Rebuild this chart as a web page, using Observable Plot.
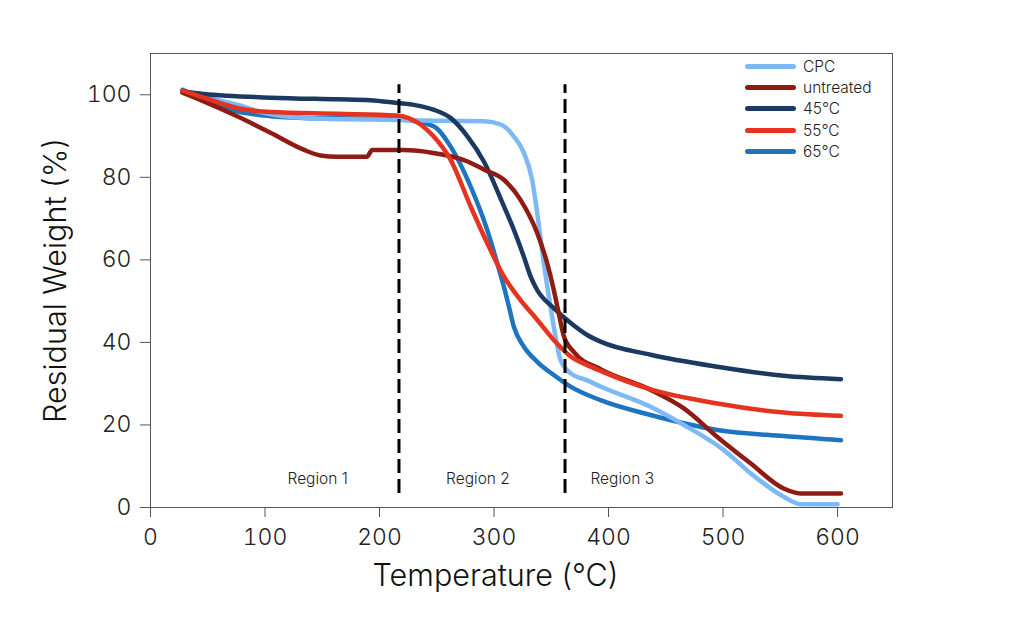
<!DOCTYPE html>
<html>
<head>
<meta charset="utf-8">
<script src="https://cdn.jsdelivr.net/npm/d3@7"></script>
<script src="https://cdn.jsdelivr.net/npm/@observablehq/plot@0.6"></script>
<style>
  html, body { margin: 0; padding: 0; background: #fff; }
  #wrap { position: relative; width: 1024px; height: 642px; font-family: Inter, "Noto Sans", sans-serif; }
  #legend { position: absolute; left: 745px; top: 56px; font-size: 15.5px; color: #222; font-weight: 300; }
  .row { display: flex; align-items: center; height: 21.2px; }
  .sw { width: 51px; height: 5px; border-radius: 3px; margin-right: 7px; }
  svg text { font-weight: 300; }
</style>
</head>
<body>
<div id="wrap"><div id="legend"></div></div>
<script>
const seriesNames = ["CPC", "untreated", "45°C", "55°C", "65°C"];
const seriesColors = ["#7db9f6", "#8e1c12", "#1b3a62", "#e5331f", "#1f74bf"];

const cpcT = [28, 46, 76, 99, 134, 192, 250, 291, 306, 317, 326, 333.3, 337.7, 343.5, 349.3, 353.7, 358, 367, 381.4, 393, 436.7, 465.8, 500.7, 524, 553, 567.7, 600];
const cpcW = [100.5, 99.5, 97.6, 95.6, 94.4, 94.0, 93.7, 93.6, 92.8, 90, 86, 79.4, 71.4, 59.2, 48.7, 41.4, 35.8, 32.5, 30.8, 29.3, 24.4, 20, 13.9, 8.3, 2.6, 0.8, 0.8];

const untreatedT = [28, 46.5, 75.7, 104.8, 133.7, 148.5, 163, 189, 193.6, 221, 247, 276.5, 291, 308.6, 323, 337.7, 346.4, 352.2, 356.9, 361, 370, 393, 436.7, 465.8, 495, 524, 553, 567.7, 603];
const untreatedW = [100.5, 98.4, 94.8, 90.8, 86.7, 85.3, 85, 85, 86.6, 86.6, 85.9, 83.9, 81.9, 79.4, 74.6, 66.5, 59.2, 52.7, 46.5, 41.5, 37.6, 33.5, 28.5, 24, 17.1, 10.7, 4.6, 3.4, 3.4];

const t45T = [28, 46.5, 104.8, 163, 192, 215.4, 231, 247, 262, 276.6, 291, 308.6, 317.3, 326, 331.9, 337.7, 352.2, 367, 381.4, 393, 436.7, 495, 553, 603];
const t45W = [100.8, 100.2, 99.3, 98.9, 98.7, 98.0, 97.5, 96.4, 94.4, 90, 83.9, 73, 67.3, 60.8, 56, 52.7, 48.3, 44.7, 41.8, 40.2, 37, 34.1, 31.9, 31.1];

const t55T = [28, 46.5, 75.7, 104.8, 163, 215, 235.8, 247, 262, 279.5, 294, 308.6, 323, 337.7, 352.2, 367, 381.4, 393, 436.7, 495, 553, 603];
const t55W = [101, 99.3, 96.8, 95.8, 95.4, 95.0, 92.8, 90, 84.3, 73, 64.1, 56, 50.3, 45.5, 40.6, 36.6, 34.5, 33.1, 28.6, 25.2, 23, 22.2];

const t65T = [28, 46.5, 75.7, 104.8, 133.7, 192, 218, 247, 262, 279.5, 294, 302.8, 308.6, 313, 317.3, 326, 337.7, 352.2, 366.8, 393, 436.7, 495, 553, 603];
const t65W = [101.2, 98.9, 96, 94.8, 94.4, 94.2, 94, 92.4, 87.5, 77.8, 67.3, 59.2, 53.5, 48.7, 43.8, 39, 35.3, 32.1, 29.3, 26, 22.4, 18.8, 17.3, 16.3];

const xTicks = [0, 100, 200, 300, 400, 500, 600];
const yTicks = [0, 20, 40, 60, 80, 100];
const regionBounds = [217, 362];
const regionNames = ["Region 1", "Region 2", "Region 3"];
const regionLabelX = [146, 286, 412];
const regionLabelY = 6.8;
const dashTop = 102.4, dashBottom = 3.4;

const seriesT = [cpcT, untreatedT, t45T, t55T, t65T];
const seriesW = [cpcW, untreatedW, t45W, t55W, t65W];
const rows = [];
seriesNames.forEach((s, i) => seriesT[i].forEach((t, j) => rows.push({series: s, T: t, W: seriesW[i][j]})));
const drawOrder = ["65°C", "CPC", "45°C", "untreated", "55°C"];

const font = "Inter, 'Noto Sans', sans-serif";

const chart = Plot.plot({
  width: 1024,
  height: 642,
  marginLeft: 150,
  marginRight: 132,
  marginTop: 53,
  marginBottom: 135,
  style: {fontFamily: font, background: "#fff", color: "#222"},
  x: {domain: [0, 648]},
  y: {domain: [0, 110]},
  color: {domain: seriesNames, range: seriesColors},
  marks: [
    Plot.frame({stroke: "#555", strokeWidth: 1}),
    Plot.axisX({ticks: xTicks, tickSize: 10, tickPadding: 11, fontSize: 23, label: null, stroke: "#555"}),
    Plot.axisY({ticks: yTicks, tickSize: 10, tickPadding: 9, fontSize: 23, label: null, stroke: "#555"}),
    Plot.text(["Temperature (°C)"], {frameAnchor: "bottom", dx: -26, dy: 78, fontSize: 30.5, fill: "#111"}),
    Plot.text(["Residual Weight (%)"], {frameAnchor: "left", textAnchor: "middle", dx: -94, rotate: -90, fontSize: 30.5, fill: "#111"}),
    ...drawOrder.map(name => Plot.line(rows.filter(r => r.series === name), {
      x: "T", y: "W", stroke: "series", strokeWidth: 4.5, curve: "monotone-x", strokeLinecap: "round", strokeLinejoin: "round"
    })),
    Plot.ruleX(regionBounds, {y1: dashBottom, y2: dashTop, stroke: "#000", strokeWidth: 3, strokeDasharray: "14,6"}),
    Plot.text(regionNames, {x: (d, i) => regionLabelX[i], y: () => regionLabelY, fontSize: 15.5, fill: "#222"})
  ]
});
document.getElementById("wrap").prepend(chart);

const legend = document.getElementById("legend");
seriesNames.forEach((s, i) => {
  const row = document.createElement("div");
  row.className = "row";
  const sw = document.createElement("div");
  sw.className = "sw";
  sw.style.background = seriesColors[i];
  const label = document.createElement("span");
  label.textContent = s;
  row.appendChild(sw);
  row.appendChild(label);
  legend.appendChild(row);
});
</script>
</body>
</html>
